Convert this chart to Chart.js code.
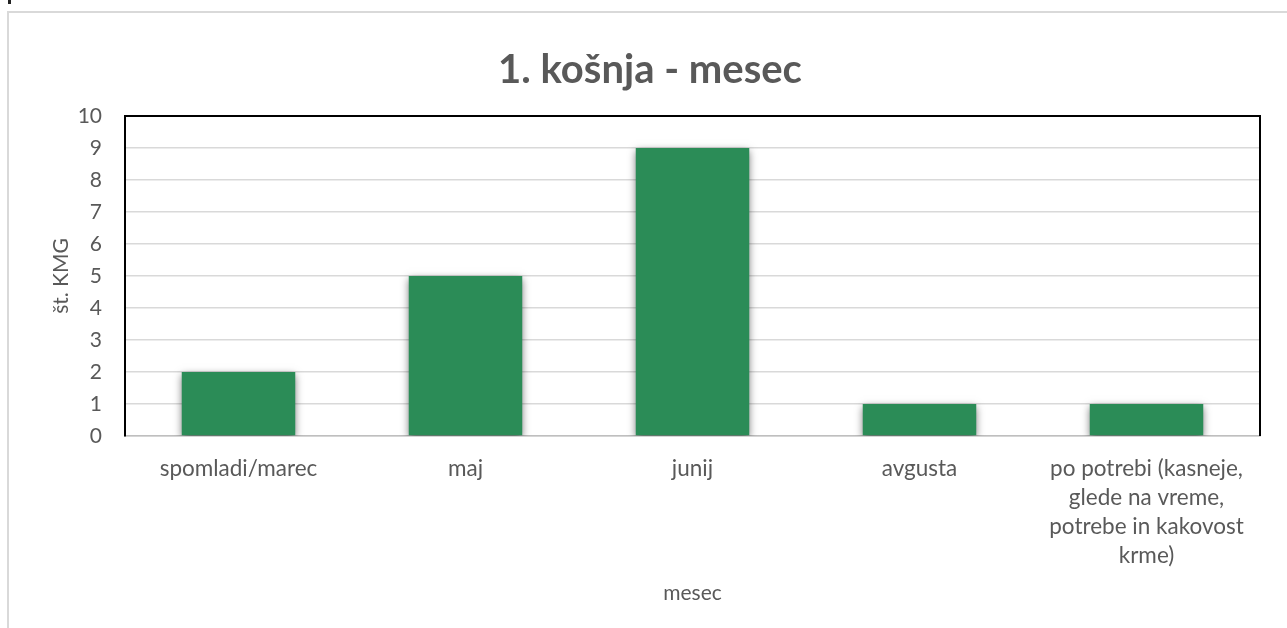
<!DOCTYPE html>
<html lang="sl">
<head>
    <meta charset="UTF-8">
    <title>1. košnja - mesec</title>
    <style>
body {
    margin: 0;
    padding: 0;
    background: #fff;
    width: 1287px;
    height: 628px;
    overflow: hidden;
    position: relative;
}

/* light frame of the chart object, runs off the right and bottom edge */
#frame {
    position: absolute;
    left: 7px;
    top: 11px;
    width: 1400px;
    height: 700px;
    border-left: 2px solid #d9d9d9;
    border-top: 2px solid #d9d9d9;
}

#mark {
    position: absolute;
    left: 8px;
    top: 0;
    width: 3px;
    height: 4px;
    background: #222;
}

#chart {
    position: absolute;
    left: 0;
    top: 0;
}
    </style>
</head>
<body>
    <div id="frame"></div>
    <div id="mark"></div>
    <canvas id="chart" width="1287" height="628"></canvas>

    <script src="https://cdn.jsdelivr.net/npm/chart.js"></script>
    <script>
        // categories (multi-line label for the last one)
        const months = [
            'spomladi/marec',
            'maj',
            'junij',
            'avgusta',
            ['po potrebi (kasneje,', 'glede na vreme,', 'potrebe in kakovost', 'krme)']
        ];
        const counts = [2, 5, 9, 1, 1];
        const yTicks = [0, 1, 2, 3, 4, 5, 6, 7, 8, 9, 10];

        const textGray = '#595959';
        const fontFamily = 'Lato, "Open Sans", sans-serif';

        // Excel style soft shadow under the bars
        const barShadow = {
            id: 'barShadow',
            beforeDatasetsDraw(chart) {
                const ctx = chart.ctx;
                ctx.save();
                ctx.shadowColor = 'rgba(0, 0, 0, 0.55)';
                ctx.shadowBlur = 8;
                ctx.shadowOffsetY = 3;
            },
            afterDatasetsDraw(chart) {
                chart.ctx.restore();
            }
        };

        // black outline on top, left and right of the plot area
        const plotBorder = {
            id: 'plotBorder',
            afterDraw(chart) {
                const { ctx, chartArea: a } = chart;
                ctx.save();
                ctx.strokeStyle = '#000';
                ctx.lineWidth = 2;
                ctx.beginPath();
                ctx.moveTo(a.left, a.bottom);
                ctx.lineTo(a.left, a.top);
                ctx.lineTo(a.right, a.top);
                ctx.lineTo(a.right, a.bottom);
                ctx.stroke();
                ctx.restore();
            }
        };

        const ctx = document.getElementById('chart').getContext('2d');

        new Chart(ctx, {
            type: 'bar',
            data: {
                labels: months,
                datasets: [{
                    label: 'št. KMG',
                    data: counts,
                    backgroundColor: '#2b8c57',
                    borderWidth: 0,
                    categoryPercentage: 1,
                    barPercentage: 0.5
                }]
            },
            options: {
                responsive: false,
                animation: false,
                devicePixelRatio: 1,
                layout: {
                    padding: { left: 40, right: 27, top: 0, bottom: 0 }
                },
                plugins: {
                    legend: { display: false },
                    tooltip: { enabled: false },
                    title: {
                        display: true,
                        text: '1. košnja - mesec',
                        color: textGray,
                        font: { family: fontFamily, size: 40, weight: 'bold' },
                        padding: { top: 46, bottom: 22 }
                    }
                },
                scales: {
                    x: {
                        grid: { display: false, drawTicks: false },
                        border: { color: '#bfbfbf', width: 1.5 },
                        ticks: {
                            color: textGray,
                            font: { family: fontFamily, size: 22.5, lineHeight: 1.29 },
                            padding: 18,
                            maxRotation: 0,
                            autoSkip: false
                        },
                        title: {
                            display: true,
                            text: 'mesec',
                            color: textGray,
                            font: { family: fontFamily, size: 21 },
                            padding: { top: 0, bottom: 22 }
                        },
                        afterFit(scale) { scale.height = 192; }
                    },
                    y: {
                        min: 0,
                        max: 10,
                        afterBuildTicks(scale) {
                            scale.ticks = yTicks.map(v => ({ value: v }));
                        },
                        grid: { color: '#d9d9d9', lineWidth: 1.5, drawTicks: false },
                        border: { color: '#000', width: 2 },
                        ticks: {
                            color: textGray,
                            font: { family: fontFamily, size: 21 },
                            padding: 23
                        },
                        title: {
                            display: true,
                            text: 'št. KMG',
                            color: textGray,
                            font: { family: fontFamily, size: 21 },
                            padding: { top: 9, bottom: 0 }
                        },
                        afterFit(scale) { scale.width = 85; }
                    }
                }
            },
            plugins: [barShadow, plotBorder]
        });
    </script>
</body>
</html>
